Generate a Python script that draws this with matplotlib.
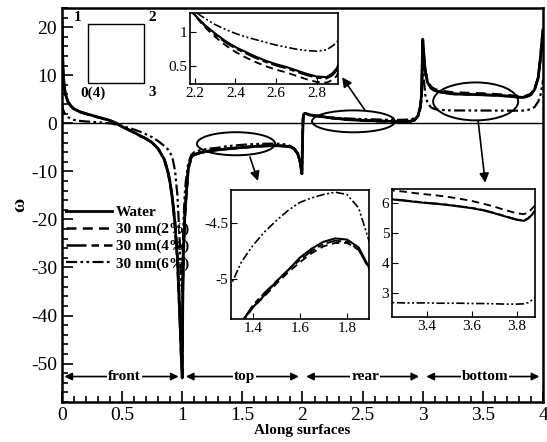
import numpy as np
import matplotlib
matplotlib.use("Agg")
import matplotlib.pyplot as plt
from matplotlib.patches import Ellipse, Rectangle
from matplotlib.ticker import MultipleLocator, FormatStrFormatter

plt.rcParams['font.family'] = ['Liberation Serif', 'DejaVu Serif']
plt.rcParams['axes.unicode_minus'] = False

# positions along the four surfaces of the square
x_front = [0, 0.005, 0.01, 0.02, 0.03, 0.05, 0.075, 0.1, 0.15, 0.2, 0.25, 0.3, 0.35, 0.4, 0.45,
           0.5, 0.55, 0.6, 0.65, 0.7, 0.75, 0.8, 0.85, 0.88, 0.9, 0.92, 0.94, 0.96, 0.98, 0.99]
x_top = [1.0, 1.005, 1.01, 1.02, 1.03, 1.05, 1.075, 1.1, 1.15, 1.2, 1.25, 1.3, 1.35, 1.4,
         1.45, 1.5, 1.55, 1.6, 1.65, 1.7, 1.75, 1.8, 1.85, 1.9, 1.93, 1.96, 1.98, 1.995]
x_rear = [2.0, 2.005, 2.01, 2.02, 2.03, 2.06, 2.1, 2.15, 2.2, 2.25, 2.3, 2.35, 2.4, 2.45,
          2.5, 2.55, 2.6, 2.65, 2.7, 2.75, 2.8, 2.85, 2.88, 2.9, 2.93, 2.96, 2.98, 2.99]
x_bottom = [3.0, 3.01, 3.02, 3.04, 3.07, 3.1, 3.15, 3.2, 3.25, 3.3, 3.35, 3.4, 3.45, 3.5, 3.55,
            3.6, 3.65, 3.7, 3.75, 3.8, 3.83, 3.85, 3.88, 3.9, 3.93, 3.96, 3.98, 3.99, 4.0]

# vorticity, water
water_front = [21, 15, 10.6, 7.5, 6.0, 4.5, 3.6, 3.0, 2.4, 2.0, 1.65, 1.3, 0.95, 0.6, 0.05,
               -0.7, -1.3, -1.9, -2.6, -3.2, -4.0, -5.3, -7.5, -10, -12.5, -16, -21, -28, -40, -47]
water_top = [-53, -35, -27, -20, -16, -9.5, -7.0, -6.5, -6.1, -5.85, -5.65, -5.5, -5.38, -5.25,
             -5.14, -5.02, -4.92, -4.81, -4.73, -4.67, -4.64, -4.65, -4.72, -4.92, -5.3, -6.3, -8.0, -10.5]
water_rear = [-4.0, 1.0, 1.8, 2.1, 2.0, 1.75, 1.62, 1.45, 1.25, 1.1, 0.98, 0.87, 0.78, 0.71,
              0.64, 0.58, 0.53, 0.49, 0.44, 0.39, 0.35, 0.34, 0.4, 0.47, 0.7, 1.5, 3.5, 6.0]
water_bottom = [17.5, 14, 11, 8.5, 7.3, 6.8, 6.5, 6.3, 6.12, 6.08, 6.04, 6.0, 5.97, 5.93, 5.88,
                5.83, 5.76, 5.66, 5.55, 5.44, 5.41, 5.48, 5.72, 6.0, 7.0, 9.5, 14, 17, 19.5]

# 30 nm, 2%
np2_front = [18, 14, 10.3, 7.3, 5.9, 4.4, 3.55, 2.95, 2.35, 1.95, 1.6, 1.25, 0.9, 0.55, 0.0,
             -0.7, -1.3, -1.9, -2.6, -3.2, -4.0, -5.3, -7.4, -9.8, -12.3, -15.8, -20.5, -27.5, -39, -46]
np2_top = [-52, -35, -27, -20, -16, -9.6, -7.1, -6.55, -6.15, -5.88, -5.68, -5.52, -5.4, -5.25,
           -5.15, -5.04, -4.94, -4.85, -4.77, -4.71, -4.68, -4.68, -4.74, -4.93, -5.3, -6.3, -8.0, -10.5]
np2_rear = [-4.0, 1.0, 1.8, 2.1, 2.0, 1.75, 1.6, 1.43, 1.24, 1.07, 0.93, 0.81, 0.71, 0.63,
            0.56, 0.5, 0.45, 0.41, 0.36, 0.31, 0.27, 0.26, 0.3, 0.36, 0.6, 1.4, 3.4, 5.9]
np2_bottom = [17, 14, 11.2, 8.8, 7.6, 7.1, 6.8, 6.58, 6.42, 6.38, 6.33, 6.29, 6.25, 6.2, 6.14,
              6.07, 5.98, 5.88, 5.76, 5.66, 5.63, 5.68, 5.92, 6.2, 7.1, 9.5, 13.5, 16.5, 19]

# 30 nm, 4%
np4_front = [19, 14.5, 10.4, 7.4, 5.95, 4.45, 3.58, 2.98, 2.38, 1.98, 1.63, 1.28, 0.93, 0.58, 0.0,
             -0.72, -1.32, -1.92, -2.62, -3.22, -4.05, -5.35, -7.5, -10, -12.6, -16.2, -21.5, -29, -41, -48]
np4_top = [-51, -35, -27, -20, -16, -9.5, -7.0, -6.5, -6.1, -5.86, -5.66, -5.5, -5.39, -5.23,
           -5.12, -5.02, -4.92, -4.83, -4.75, -4.69, -4.66, -4.67, -4.74, -4.93, -5.3, -6.3, -8.0, -10.5]
np4_rear = [-4.0, 1.0, 1.8, 2.1, 2.0, 1.75, 1.61, 1.44, 1.25, 1.09, 0.96, 0.85, 0.76, 0.69,
            0.62, 0.56, 0.51, 0.47, 0.42, 0.37, 0.33, 0.32, 0.37, 0.44, 0.68, 1.5, 3.5, 6.0]
np4_bottom = [17.3, 14, 11, 8.5, 7.3, 6.8, 6.5, 6.3, 6.13, 6.09, 6.05, 6.01, 5.98, 5.94, 5.89,
              5.84, 5.77, 5.67, 5.56, 5.45, 5.42, 5.5, 5.75, 6.0, 7.0, 9.5, 14, 17, 19.5]

# 30 nm, 6%
np6_front = [4.0, 3.3, 2.8, 2.2, 1.8, 1.3, 0.95, 0.7, 0.5, 0.38, 0.3, 0.2, 0.1, 0.0, -0.25,
             -0.55, -0.9, -1.3, -1.75, -2.3, -2.9, -3.7, -4.7, -5.4, -6.1, -7.4, -9.8, -15, -25, -33]
np6_top = [-35, -26, -21, -15, -12, -8.3, -6.6, -6.0, -5.6, -5.35, -5.2, -5.08, -4.85, -4.7,
           -4.58, -4.48, -4.39, -4.32, -4.28, -4.25, -4.23, -4.25, -4.37, -4.7, -5.2, -6.3, -8.0, -10.3]
np6_rear = [-4.0, 1.0, 1.8, 2.1, 2.0, 1.8, 1.65, 1.46, 1.3, 1.2, 1.11, 1.04, 0.98, 0.93,
            0.89, 0.85, 0.81, 0.78, 0.75, 0.73, 0.72, 0.74, 0.8, 0.85, 1.0, 1.5, 3.0, 5.0]
np6_bottom = [14, 9, 6, 4.2, 3.3, 2.95, 2.8, 2.72, 2.68, 2.67, 2.67, 2.67, 2.66, 2.66, 2.66,
              2.65, 2.65, 2.64, 2.63, 2.63, 2.64, 2.68, 2.83, 3.0, 3.4, 4.5, 6.0, 7.5, 9.0]

labels = ['Water', '30 nm(2%)', '30 nm(4%)', '30 nm(6%)']
surfaces = ['front', 'top', 'rear', 'bottom']

s = np.concatenate([x_front, x_top, x_rear, x_bottom])
series = [
    np.concatenate([water_front, water_top, water_rear, water_bottom]),
    np.concatenate([np2_front, np2_top, np2_rear, np2_bottom]),
    np.concatenate([np4_front, np4_top, np4_rear, np4_bottom]),
    np.concatenate([np6_front, np6_top, np6_rear, np6_bottom]),
]
dashes = ['-', (0, (4, 2.5)), (0, (8, 2, 3, 2)), (0, (5, 1.5, 1.2, 1.5, 1.2, 1.5))]
widths = [2.0, 1.8, 1.8, 1.6]

fig = plt.figure(figsize=(5.47, 4.42), dpi=100)
ax = fig.add_axes([0.1133, 0.0905, 0.8794, 0.8914])

for y, ls, lw, lab in zip(series, dashes, widths, labels):
    ax.plot(s, y, color='black', ls=ls, lw=lw, label=lab)

ax.axhline(0, color='black', lw=1.0)
ax.set_xlim(0, 4)
ax.set_ylim(-58, 24)
ax.xaxis.set_major_locator(MultipleLocator(0.5))
ax.xaxis.set_minor_locator(MultipleLocator(0.1))
ax.yaxis.set_major_locator(MultipleLocator(10))
ax.yaxis.set_minor_locator(MultipleLocator(2))
ax.xaxis.set_major_formatter(FormatStrFormatter('%g'))
ax.tick_params(which='both', direction='in', top=False, right=False, labelsize=14, width=1.2)
ax.tick_params(which='major', length=8)
ax.tick_params(which='minor', length=4)
for sp in ax.spines.values():
    sp.set_linewidth(1.8)
ax.set_xlabel('Along surfaces', fontsize=11, fontweight='bold', labelpad=0)
ax.set_ylabel('ω', fontsize=14, fontweight='bold', labelpad=2)

leg = ax.legend(loc='upper left', bbox_to_anchor=(-0.005, 0.515), frameon=False,
                handlelength=3.0, handletextpad=0.3, labelspacing=0.22, borderaxespad=0,
                prop=dict(weight='bold', size=11))

# surface markers along the bottom
for i, name in enumerate(surfaces):
    ax.annotate('', xy=(i + 0.97, -52.7), xytext=(i + 0.03 if i else 0.02, -52.7),
                arrowprops=dict(arrowstyle='<|-|>', color='black', lw=1.2, mutation_scale=11,
                                shrinkA=0, shrinkB=0))
    ax.text(i + 0.52, -52.7, name, ha='center', va='center', fontsize=11, fontweight='bold',
            bbox=dict(facecolor='white', edgecolor='none', pad=0.5))

# schematic of the square with corner numbering
ax.add_patch(Rectangle((0.216, 8.3), 0.466, 12.4, fill=False, lw=1.0, color='black'))
for txt, xx, yy in [('1', 0.133, 22.0), ('2', 0.75, 22.0), ('0(4)', 0.26, 6.2), ('3', 0.75, 6.4)]:
    ax.text(xx, yy, txt, ha='center', va='center', fontsize=11, fontweight='bold')

# ellipses marking zoomed regions
for cx, cy, w, h in [(1.447, -4.25, 0.65, 4.8), (2.424, 0.41, 0.69, 4.56), (3.44, 4.56, 0.707, 7.9)]:
    ax.add_patch(Ellipse((cx, cy), w, h, fill=False, lw=1.4, color='black'))
for (x0, y0), (x1, y1) in [((1.563, -7.0), (1.63, -12.0)),
                           ((2.52, 2.7), (2.33, 9.6)),
                           ((3.46, 0.6), (3.52, -12.4))]:
    ax.annotate('', xy=(x1, y1), xytext=(x0, y0),
                arrowprops=dict(arrowstyle='-|>', color='black', lw=1.2, mutation_scale=14,
                                shrinkA=0, shrinkB=0))


def inset(rect, xlim, ylim, xt, yt):
    a = fig.add_axes(rect)
    for y, ls, lw in zip(series, dashes, widths):
        a.plot(s, y, color='black', ls=ls, lw=lw * 0.75)
    a.set_xlim(*xlim)
    a.set_ylim(*ylim)
    a.set_xticks(xt)
    a.set_yticks(yt)
    a.xaxis.set_major_formatter(FormatStrFormatter('%g'))
    a.yaxis.set_major_formatter(FormatStrFormatter('%g'))
    a.tick_params(direction='in', labelsize=11, length=4, pad=2, top=False, right=False)
    for sp in a.spines.values():
        sp.set_linewidth(1.2)
    return a


inset([0.347, 0.810, 0.2706, 0.1606], (2.175, 2.905), (0.24, 1.28), [2.2, 2.4, 2.6, 2.8], [0.5, 1])
inset([0.4223, 0.2783, 0.2523, 0.2919], (1.306, 1.894), (-5.355, -4.21), [1.4, 1.6, 1.8], [-5, -4.5])
inset([0.7166, 0.2828, 0.2614, 0.2896], (3.245, 3.88), (2.2, 6.47), [3.4, 3.6, 3.8], [3, 4, 5, 6])

fig.savefig('out.png', dpi=100)
